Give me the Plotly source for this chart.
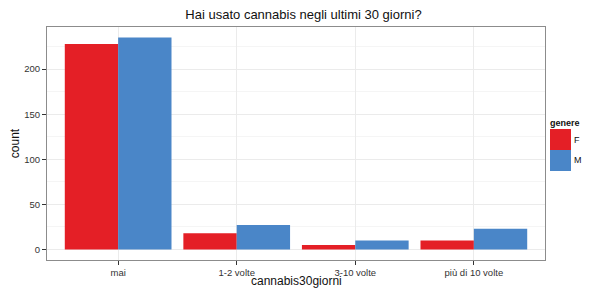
import plotly.graph_objects as go

categories = ["mai", "1-2 volte", "3-10 volte", "più di 10 volte"]
f_counts = [228, 18, 5, 10]
m_counts = [235, 27, 10, 23]
series_names = ["F", "M"]
series_colors = ["#E41F26", "#4A86C8"]
y_ticks = [0, 50, 100, 150, 200]

fig = go.Figure()
for name, vals, col in zip(series_names, [f_counts, m_counts], series_colors):
    fig.add_trace(go.Bar(x=categories, y=vals, name=name, marker=dict(color=col, line=dict(width=0)),
                         showlegend=False))

# page body has an 8px margin; figure coordinates are window coordinates minus 8px
W, H = 591, 288
ML, MT = 39, 19
PR, PB = 537, 252  # panel right / bottom in figure pixels
MR, MB = W - PR, H - PB
pw, ph = PR - ML, PB - MT


def px(xf):
    return (xf - ML) / pw


def py(yf):
    return (PB - yf) / ph


# legend drawn as key boxes beside the panel
fig.add_annotation(x=px(540), y=py(115), xref="paper", yref="paper", xanchor="left", yanchor="middle",
                   text="<b>genere</b>", showarrow=False, font=dict(size=9, color="#111"))
key_h = 21
for i, (name, col) in enumerate(zip(series_names, series_colors)):
    top = 121 + i * key_h
    fig.add_shape(type="rect", xref="paper", yref="paper", x0=px(542), x1=px(563),
                  y0=py(top + key_h), y1=py(top), fillcolor=col, line=dict(width=0))
    fig.add_annotation(x=px(564), y=py(top + key_h / 2), xref="paper", yref="paper",
                       xanchor="left", yanchor="middle", text=name, showarrow=False,
                       font=dict(size=9, color="#111"))

# x-axis title placed just below the tick labels
fig.add_annotation(x=0.5, y=py(273), xref="paper", yref="paper", xanchor="center", yanchor="middle",
                   text="cannabis30giorni", showarrow=False, font=dict(size=12, color="#111"))

fig.update_layout(
    width=W, height=H,
    margin=dict(l=ML, r=MR, t=MT, b=MB, autoexpand=False),
    barmode="group", bargap=0.1, bargroupgap=0,
    plot_bgcolor="white", paper_bgcolor="white",
    font=dict(family="Liberation Sans, Arial", color="#222"),
    title=dict(text="Hai usato cannabis negli ultimi 30 giorni?", x=0.5, xanchor="center",
               y=1 - 6 / H, yanchor="middle", font=dict(size=13, color="#111")),
    showlegend=False,
)
fig.update_xaxes(
    range=[-0.6, 3.6], showgrid=True, gridcolor="#EBEBEB", gridwidth=1, automargin=False,
    ticks="outside", ticklen=4, tickcolor="#333", tickfont=dict(size=9.5, color="#333"),
    showline=True, linecolor="#8C8C8C", linewidth=1, mirror=True,
)
fig.update_yaxes(
    range=[-11.75, 246.75], tickvals=y_ticks, showgrid=True, gridcolor="#EBEBEB", gridwidth=1, automargin=False,
    minor=dict(tickvals=[25, 75, 125, 175, 225], showgrid=True, gridcolor="#F5F5F5", gridwidth=1, ticks=""),
    ticks="outside", ticklen=4, tickcolor="#333", tickfont=dict(size=9.5, color="#333"),
    showline=True, linecolor="#8C8C8C", linewidth=1, mirror=True, zeroline=False,
    title=dict(text="count", font=dict(size=12, color="#111"), standoff=6),
)
fig.write_html("out.html")
